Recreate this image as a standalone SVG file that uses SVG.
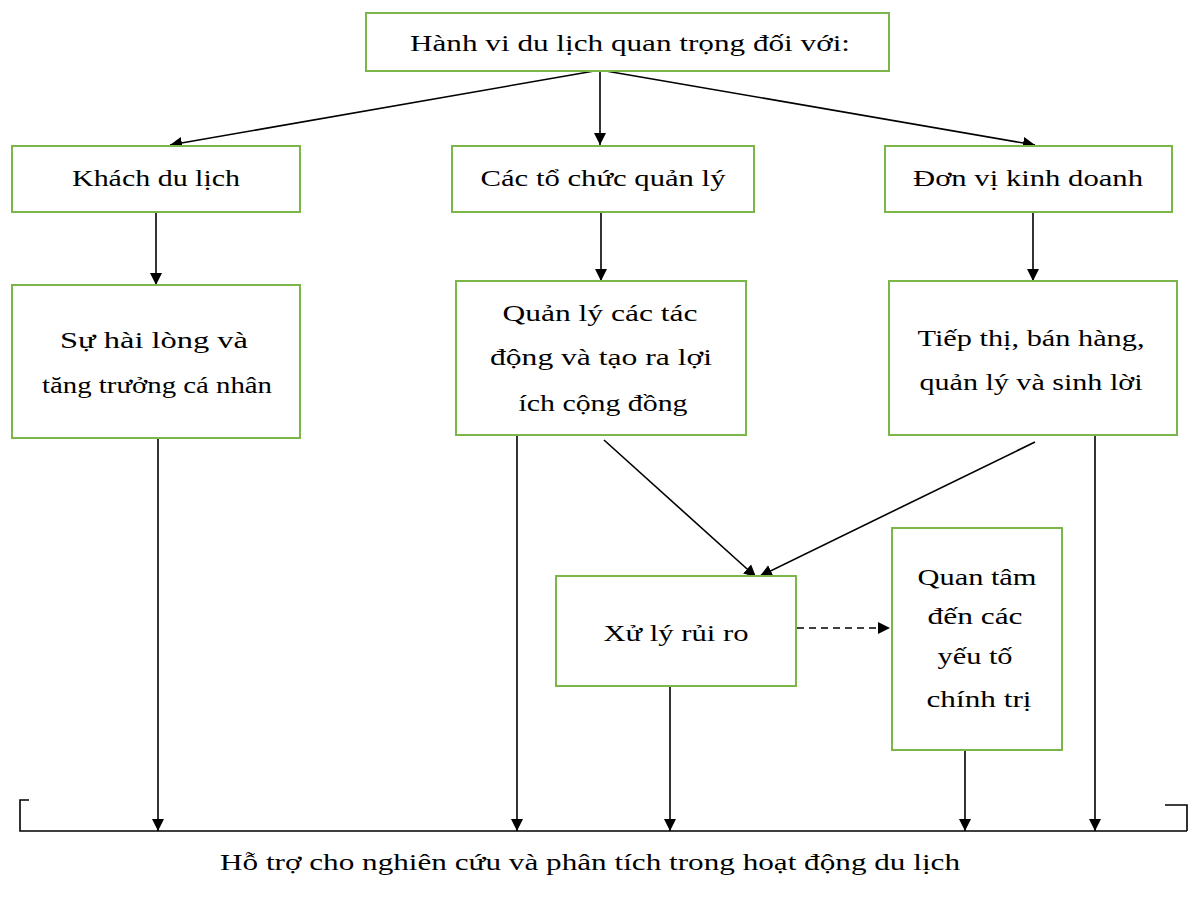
<svg xmlns="http://www.w3.org/2000/svg" width="1189" height="902" viewBox="0 0 1189 902">
<defs>
<marker id="ah" viewBox="0 0 10 10" refX="10" refY="5" markerWidth="12" markerHeight="13" markerUnits="userSpaceOnUse" orient="auto">
<path d="M0,0 L10,5 L0,10 z" fill="#000"/>
</marker>
<style>
.box{fill:#fff;stroke:#7ab648;stroke-width:2}
.t{font-family:"Liberation Serif","Times New Roman",serif;font-size:24px;fill:#000;text-anchor:middle}
.c{stroke:#000;stroke-width:1.6;fill:none}
.a{marker-end:url(#ah)}
.d{stroke-dasharray:7 5}
</style>
</defs>
<rect width="1189" height="902" fill="#fff"/>
<g id="connectors">
<line class="c a" x1="600" y1="70" x2="170" y2="145"/>
<line class="c a" x1="600" y1="70" x2="600" y2="145"/>
<line class="c a" x1="600" y1="70" x2="1035" y2="145"/>
<line class="c a" x1="156" y1="212" x2="156" y2="285"/>
<line class="c a" x1="601" y1="212" x2="601" y2="281"/>
<line class="c a" x1="1033" y1="212" x2="1033" y2="281"/>
<line class="c a" x1="604" y1="440" x2="756" y2="577"/>
<line class="c a" x1="1035" y1="442" x2="760" y2="576"/>
<line class="c a d" x1="797" y1="628" x2="890" y2="628"/>
<line class="c a" x1="158" y1="438" x2="158" y2="831"/>
<line class="c a" x1="517" y1="435" x2="517" y2="831"/>
<line class="c a" x1="670" y1="686" x2="670" y2="831"/>
<line class="c a" x1="965" y1="750" x2="965" y2="831"/>
<line class="c a" x1="1095" y1="435" x2="1095" y2="831"/>
<polyline class="c" points="29,800 20,800 20,831 1187,831"/>
<polyline class="c" points="1165,805 1187,805 1187,831"/>
</g>
<g id="n-top"><rect class="box" x="366" y="13" width="523" height="58"/><text class="t" x="630" y="51" textLength="440" lengthAdjust="spacingAndGlyphs">Hành  vi du lịch  quan trọng  đối với:</text></g>
<g id="n-khach"><rect class="box" x="12" y="146" width="288" height="66"/><text class="t" x="156" y="186" textLength="168" lengthAdjust="spacingAndGlyphs">Khách  du lịch</text></g>
<g id="n-tochuc"><rect class="box" x="452" y="146" width="302" height="66"/><text class="t" x="603" y="186" textLength="245" lengthAdjust="spacingAndGlyphs">Các tổ chức quản lý</text></g>
<g id="n-donvi"><rect class="box" x="885" y="146" width="287" height="66"/><text class="t" x="1028" y="186" textLength="230" lengthAdjust="spacingAndGlyphs">Đơn vị kinh  doanh</text></g>
<g id="n-hailong"><rect class="box" x="12" y="285" width="288" height="153"/>
<text class="t" x="154" y="348" textLength="188" lengthAdjust="spacingAndGlyphs">Sự hài lòng  và</text>
<text class="t" x="157" y="393" textLength="230" lengthAdjust="spacingAndGlyphs">tăng trưởng cá nhân</text></g>
<g id="n-quanly"><rect class="box" x="456" y="281" width="290" height="154"/>
<text class="t" x="600" y="321" textLength="195" lengthAdjust="spacingAndGlyphs">Quản lý các tác</text>
<text class="t" x="601" y="365" textLength="222" lengthAdjust="spacingAndGlyphs">động và tạo ra lợi</text>
<text class="t" x="603" y="411" textLength="169" lengthAdjust="spacingAndGlyphs">ích cộng đồng</text></g>
<g id="n-tiepthi"><rect class="box" x="889" y="281" width="288" height="154"/>
<text class="t" x="1031" y="346" textLength="227" lengthAdjust="spacingAndGlyphs">Tiếp thị,  bán hàng,</text>
<text class="t" x="1031" y="390" textLength="223" lengthAdjust="spacingAndGlyphs">quản lý và sinh lời</text></g>
<g id="n-xuly"><rect class="box" x="556" y="576" width="240" height="110"/>
<text class="t" x="676" y="641" textLength="145" lengthAdjust="spacingAndGlyphs">Xử lý  rủi ro</text></g>
<g id="n-quantam"><rect class="box" x="892" y="528" width="170" height="222"/>
<text class="t" x="977" y="585" textLength="119" lengthAdjust="spacingAndGlyphs">Quan tâm</text>
<text class="t" x="975" y="624" textLength="95" lengthAdjust="spacingAndGlyphs">đến các</text>
<text class="t" x="975" y="664" textLength="75" lengthAdjust="spacingAndGlyphs">yếu tố</text>
<text class="t" x="979" y="707" textLength="105" lengthAdjust="spacingAndGlyphs">chính  trị</text></g>
<g id="label-bottom"><text class="t" x="590" y="870" textLength="740" lengthAdjust="spacingAndGlyphs">Hỗ trợ cho nghiên  cứu và phân tích trong hoạt động du lịch</text></g>
</svg>
